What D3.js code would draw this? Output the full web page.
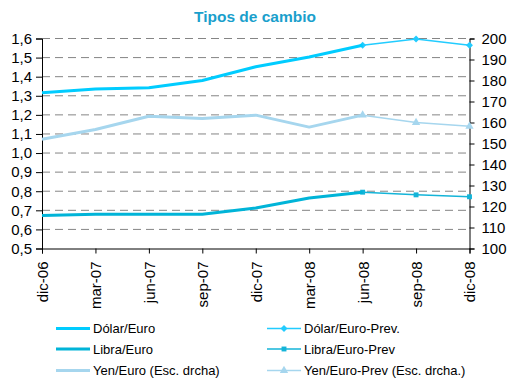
<!DOCTYPE html>
<html>
<head>
<meta charset="utf-8">
<script src="https://cdn.jsdelivr.net/npm/d3@7"></script>
<style>
  html, body { margin: 0; padding: 0; background: #fff; }
  svg { display: block; font-family: "Liberation Sans", Arial, sans-serif; }
</style>
</head>
<body>
<svg id="chart" width="511" height="381"></svg>
<script>
// Quarterly exchange rates, actual and forecast
const periods = ["dic-06", "mar-07", "jun-07", "sep-07", "dic-07", "mar-08", "jun-08", "sep-08", "dic-08"];
const dolarEuro     = [1.316, 1.335, 1.342, 1.380, 1.452, 1.503, 1.565];
const dolarEuroPrev = [null, null, null, null, null, null, 1.565, 1.597, 1.565];
const libraEuro     = [0.673, 0.680, 0.680, 0.680, 0.712, 0.765, 0.795];
const libraEuroPrev = [null, null, null, null, null, null, 0.795, 0.781, 0.771];
const yenEuro       = [152.0, 156.7, 163.0, 161.9, 163.5, 157.8, 163.5];
const yenEuroPrev   = [null, null, null, null, null, null, 163.5, 160.0, 158.2];
const leftTicks  = [0.5, 0.6, 0.7, 0.8, 0.9, 1.0, 1.1, 1.2, 1.3, 1.4, 1.5, 1.6];
const rightTicks = [100, 110, 120, 130, 140, 150, 160, 170, 180, 190, 200];

const svg = d3.select("#chart");
const plotLeft = 42, plotRight = 469.5, plotTop = 38.5, plotBottom = 248.5;

const x = d3.scalePoint().domain(periods).range([plotLeft, plotRight]);
const yL = d3.scaleLinear().domain([0.5, 1.6]).range([plotBottom, plotTop]);
const yR = d3.scaleLinear().domain([100, 200]).range([plotBottom, plotTop]);

const fmt = d3.format(".1f");
const comma = v => fmt(v).replace(".", ",");

// Title
svg.append("text")
  .attr("x", 255).attr("y", 22)
  .attr("text-anchor", "middle")
  .attr("font-size", 15.5).attr("font-weight", "bold")
  .attr("fill", "#1a9fcc")
  .text("Tipos de cambio");

// Dashed gridlines on the left-axis ticks
svg.append("g").selectAll("line")
  .data(leftTicks.filter(t => t > 0.5))
  .join("line")
  .attr("x1", plotLeft).attr("x2", plotRight)
  .attr("y1", d => yL(d)).attr("y2", d => yL(d))
  .attr("stroke", "#858585").attr("stroke-width", 1)
  .attr("stroke-dasharray", "8,5");

// Axes
const axisStyle = g => {
  g.select(".domain").attr("stroke", "#000").attr("stroke-width", 1);
  g.selectAll(".tick line").attr("stroke", "#000");
  g.selectAll(".tick text").attr("fill", "#000").attr("font-size", 15)
    .attr("font-family", "Liberation Sans, Arial, sans-serif");
};

svg.append("g")
  .attr("transform", `translate(${plotLeft},0)`)
  .call(d3.axisLeft(yL).tickValues(leftTicks).tickFormat(comma).tickSizeOuter(0).tickSize(6).tickPadding(4))
  .call(axisStyle);

svg.append("g")
  .attr("transform", `translate(${plotRight},0)`)
  .call(d3.axisRight(yR).tickValues(rightTicks).tickFormat(d3.format("d")).tickSizeOuter(0).tickSize(5).tickPadding(7))
  .call(axisStyle);

const xg = svg.append("g")
  .attr("transform", `translate(0,${plotBottom})`)
  .call(d3.axisBottom(x).tickSizeOuter(0).tickSize(5))
  .call(axisStyle);
xg.selectAll(".tick text")
  .attr("transform", "rotate(-90)")
  .attr("text-anchor", "end")
  .attr("x", -13).attr("y", 0).attr("dy", "0.36em");

// Series
const series = [
  { name: "Dólar/Euro", values: dolarEuro, y: yL, color: "#00ccff", width: 3 },
  { name: "Libra/Euro", values: libraEuro, y: yL, color: "#00b4d8", width: 3 },
  { name: "Yen/Euro (Esc. drcha)", values: yenEuro, y: yR, color: "#a6d6ee", width: 3 },
  { name: "Dólar/Euro-Prev.", values: dolarEuroPrev, y: yL, color: "#22ccff", width: 1.5, marker: "diamond" },
  { name: "Libra/Euro-Prev", values: libraEuroPrev, y: yL, color: "#14b4d8", width: 1.5, marker: "square" },
  { name: "Yen/Euro-Prev (Esc. drcha.)", values: yenEuroPrev, y: yR, color: "#a6d6ee", width: 1.5, marker: "triangle" }
];

// square-ish diamond marker
const diamond = {
  draw(ctx, size) {
    const r = Math.sqrt(size / 2);
    ctx.moveTo(0, -r); ctx.lineTo(r, 0); ctx.lineTo(0, r); ctx.lineTo(-r, 0); ctx.closePath();
  }
};
const symbolType = { diamond: diamond, square: d3.symbolSquare, triangle: d3.symbolTriangle };
const symbolSize = { diamond: 24, square: 24, triangle: 30 };

const plot = svg.append("g");
// forecasts first, then actuals on top of the shared point
[3, 4, 5, 2, 1, 0].forEach(i => {
  const s = series[i];
  const pts = s.values.map((v, j) => ({ p: periods[j], v })).filter(d => d.v != null);
  const line = d3.line().x(d => x(d.p)).y(d => s.y(d.v));
  plot.append("path")
    .attr("d", line(pts))
    .attr("fill", "none")
    .attr("stroke", s.color)
    .attr("stroke-width", s.width)
    .attr("stroke-linejoin", "round");
  if (s.marker) {
    plot.append("g").selectAll("path")
      .data(pts)
      .join("path")
      .attr("transform", d => `translate(${x(d.p)},${s.y(d.v)})`)
      .attr("d", d3.symbol(symbolType[s.marker], symbolSize[s.marker]))
      .attr("fill", s.color);
  }
});

// Legend: two columns, three rows
const legend = svg.append("g").attr("font-size", 13);
series.forEach((s, i) => {
  const col = i < 3 ? 0 : 1;
  const row = i % 3;
  const lx = col === 0 ? 56 : 267;
  const ly = [328.5, 349, 370.5][row];
  const g = legend.append("g").attr("transform", `translate(${lx},${ly})`);
  g.append("line")
    .attr("x1", 0).attr("x2", 34).attr("y1", 0).attr("y2", 0)
    .attr("stroke", s.color).attr("stroke-width", s.marker ? 1.5 : 3);
  if (s.marker) {
    g.append("path")
      .attr("transform", "translate(17,0)")
      .attr("d", d3.symbol(symbolType[s.marker], symbolSize[s.marker]))
      .attr("fill", s.color);
  }
  g.append("text")
    .attr("x", 37).attr("y", 0).attr("dy", "0.36em")
    .attr("fill", "#000")
    .text(s.name);
});
</script>
</body>
</html>
